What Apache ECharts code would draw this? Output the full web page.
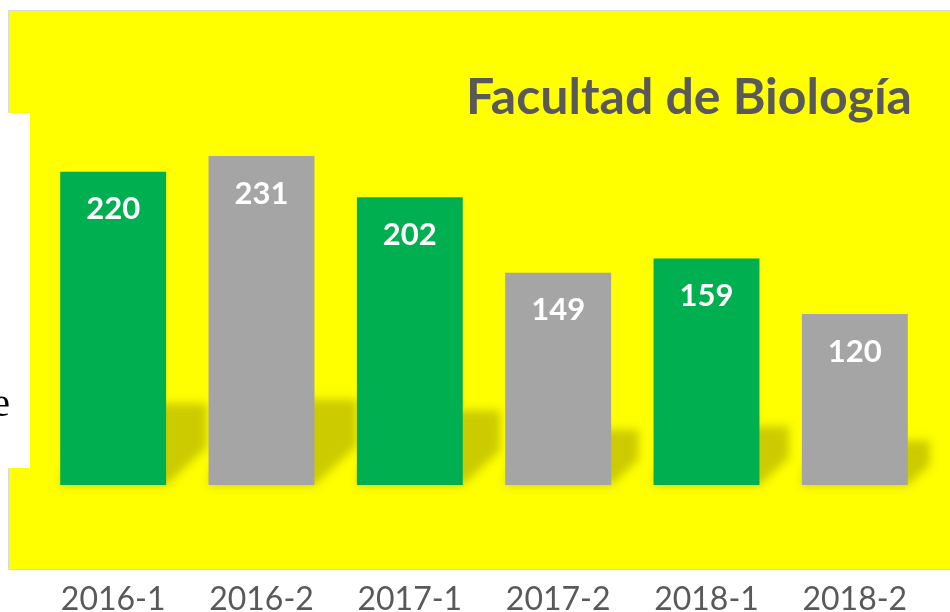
<!DOCTYPE html>
<html>
<head>
<meta charset="utf-8">
<title>Facultad de Biología</title>
<script src="https://cdn.jsdelivr.net/npm/echarts@6/dist/echarts.min.js"></script>
<style>
	html, body { margin: 0; padding: 0; background: #fff; }
	#chart { width: 950px; height: 612px; }
</style>
</head>
<body>
<div id="chart"></div>
<script>
	// datos
	let periodos = ['2016-1', '2016-2', '2017-1', '2017-2', '2018-1', '2018-2'];
	let alumnos = [220, 231, 202, 149, 159, 120];
	let colores = ['#00b050', '#a5a5a5'];
	let titulo = 'Facultad de Biología';

	let anchoBarra = 0.714;
	let fuera = 1500; // la forma se dibuja fuera y solo se ve su sombra difusa

	let sombra = (params, api) => {
		let base = api.coord([api.value(0), 0]);
		let top = api.coord([api.value(0), api.value(1)]);
		let w = api.size([1, 0])[0] * anchoBarra;
		let h = base[1] - top[1];
		let xL = base[0] - w / 2 - fuera;
		let xR = base[0] + w / 2 - fuera;
		let y = base[1];
		let dx = h * 0.13;
		return {
			type: 'polygon',
			shape: {
				points: [
					[xL, y], [xR, y], [xR + dx, y - h * 0.12],
					[xR + dx, y - h * 0.26], [xL + dx * 0.5, y - h * 0.26]
				]
			},
			style: {
				fill: '#000000',
				shadowBlur: 10,
				shadowOffsetX: fuera,
				shadowColor: 'rgba(140,140,0,0.45)'
			}
		};
	};

	let chart = echarts.init(document.getElementById('chart'));
	chart.setOption({
		animation: false,
		backgroundColor: '#ffffff',
		title: {
			text: titulo,
			right: 33,
			top: 68,
			textStyle: {
				fontFamily: 'Lato',
				fontWeight: 'bold',
				fontSize: 50,
				color: '#595959'
			}
		},
		graphic: [{
				type: 'rect',
				z: -10,
				shape: { x: 8.5, y: 10.5, width: 960, height: 559 },
				style: { fill: '#ffff00', stroke: '#d9d9d9', lineWidth: 1 }
			},
			{
				type: 'rect',
				z: -9,
				shape: { x: 0, y: 113, width: 30, height: 355 },
				style: { fill: '#ffffff' }
			},
			{
				type: 'text',
				z: -8,
				x: 10,
				y: 405,
				style: {
					text: 'e',
					align: 'right',
					verticalAlign: 'middle',
					font: '40px "Liberation Serif"',
					fill: '#000000'
				}
			}
		],
		grid: {
			left: 39,
			right: 21,
			top: 129,
			bottom: 127,
			outerBoundsMode: 'none',
			containLabel: false
		},
		xAxis: {
			type: 'category',
			data: periodos,
			axisLine: { show: false },
			axisTick: { show: false },
			axisLabel: {
				margin: 99,
				fontFamily: 'Lato',
				fontSize: 32,
				color: '#595959'
			}
		},
		yAxis: {
			type: 'value',
			min: 0,
			max: 250,
			show: false,
			splitLine: { show: false }
		},
		series: [{
				type: 'custom',
				z: 1,
				silent: true,
				clip: false,
				renderItem: sombra,
				data: alumnos.map((v, i) => [i, v])
			},
			{
				type: 'bar',
				z: 3,
				data: alumnos,
				barWidth: (anchoBarra * 100) + '%',
				itemStyle: {
					color: (p) => colores[p.dataIndex % 2]
				},
				label: {
					show: true,
					position: 'insideTop',
					distance: 22,
					fontFamily: 'Lato',
					fontWeight: 'bold',
					fontSize: 31,
					color: '#ffffff'
				}
			}
		]
	});
</script>
</body>
</html>
